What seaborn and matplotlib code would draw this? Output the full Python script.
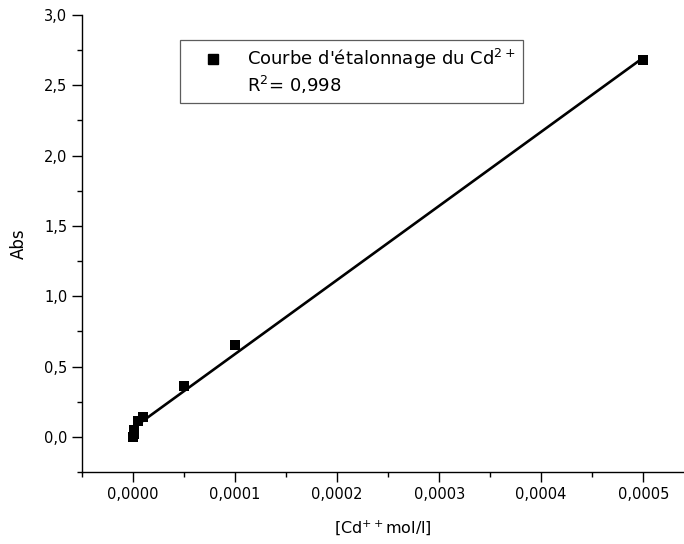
import numpy as np
import pandas as pd
import matplotlib
matplotlib.use("Agg")
import matplotlib.pyplot as plt
import seaborn as sns
from matplotlib.ticker import MultipleLocator, FuncFormatter
from matplotlib.lines import Line2D

# calibration points
conc = [0.0, 5e-7, 1e-6, 5e-6, 1e-5, 5e-5, 1e-4, 5e-4]   # mol/l
absorb = [0.0, 0.02, 0.05, 0.11, 0.14, 0.36, 0.65, 2.68]
r2_text = "0,998"

df = pd.DataFrame({"conc": conc, "abs": absorb})

sns.set_style("ticks")
plt.rcParams["font.family"] = ["DejaVu Sans"]
plt.rcParams["text.color"] = "black"
plt.rcParams["axes.labelcolor"] = "black"

fig = plt.figure(figsize=(6.84, 5.44), dpi=100)
ax = fig.add_axes([0.12, 0.1324, 0.88, 0.84])

# least squares line, drawn behind the squares
sns.regplot(data=df, x="conc", y="abs", ax=ax, ci=None, scatter=False,
            truncate=True, line_kws={"color": "black", "lw": 1.9})
sns.scatterplot(data=df, x="conc", y="abs", ax=ax, marker="s", s=55,
                color="black", edgecolor="black", linewidth=0, zorder=3)

ax.set_xlim(-0.00005, 0.000540)
ax.set_ylim(-0.25, 3.0)
ax.xaxis.set_major_locator(MultipleLocator(0.0001))
ax.xaxis.set_minor_locator(MultipleLocator(0.00005))
ax.yaxis.set_major_locator(MultipleLocator(0.5))
ax.yaxis.set_minor_locator(MultipleLocator(0.25))
ax.xaxis.set_major_formatter(FuncFormatter(lambda v, p: f"{v:.4f}".replace(".", ",").replace("-0,0000", "0,0000")))
ax.yaxis.set_major_formatter(FuncFormatter(lambda v, p: f"{v:.1f}".replace(".", ",").replace("-0,0", "0,0")))

ax.tick_params(which="major", direction="out", length=7, width=1, labelsize=10.5, color="black", labelcolor="black")
ax.tick_params(which="minor", direction="out", length=3.5, width=1, color="black")
for side in ["top", "right"]:
    ax.spines[side].set_visible(False)
for side in ["left", "bottom"]:
    ax.spines[side].set_color("black")
    ax.spines[side].set_linewidth(1)

ax.set_xlabel("[Cd$^{++}$mol/l]", fontsize=11.5, labelpad=12, color="black")
ax.set_ylabel("Abs", fontsize=12, labelpad=12, color="black")

handles = [Line2D([], [], marker="s", color="black", ls="none", markersize=7),
           Line2D([], [], ls="none")]
labels = ["Courbe d'étalonnage du Cd$^{2+}$", "R$^{2}$= " + r2_text]
leg = ax.legend(handles, labels, loc="upper left", bbox_to_anchor=(0.163, 0.945),
                frameon=True, fancybox=False, fontsize=13, handlelength=2.8,
                handletextpad=0.5, borderpad=0.4, labelspacing=0.15,
                borderaxespad=0)
leg.get_frame().set_edgecolor("#333333")
leg.get_frame().set_linewidth(0.9)
for t in leg.get_texts():
    t.set_color("black")

fig.savefig("out.png", dpi=100)
